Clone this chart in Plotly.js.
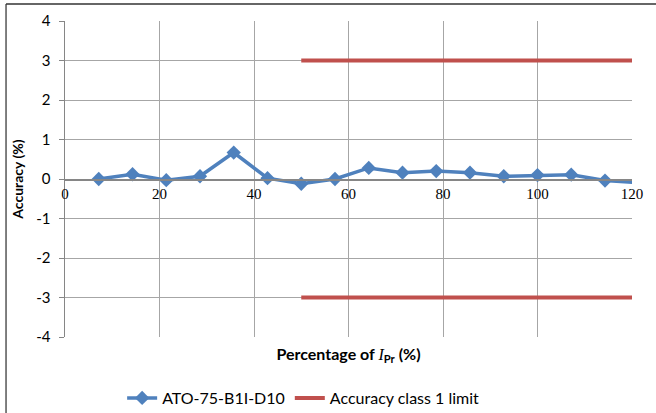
<!DOCTYPE html>
<html>
<head>
<meta charset="utf-8">
<script src="https://cdn.plot.ly/plotly-3.0.1.min.js"></script>
<style>html,body{margin:0;padding:0;background:#fff;}#chart{width:656px;height:413px;}</style>
</head>
<body>
<div id="chart"></div>
<script>
// Data
var seriesName = 'ATO-75-B1I-D10';
var pctIpr = [7.14, 14.29, 21.43, 28.57, 35.71, 42.86, 50.0, 57.14, 64.29, 71.43, 78.57, 85.71, 92.86, 100.0, 107.14, 114.29, 121.43];
var accuracy = [0.00, 0.12, -0.03, 0.07, 0.67, 0.02, -0.12, 0.00, 0.28, 0.16, 0.20, 0.16, 0.07, 0.10, 0.11, -0.04, -0.09];
var limitName = 'Accuracy class 1 limit';
var limitX = [50, 120];
var limitUpper = 3;
var limitLower = -3;
var yTicks = [-4, -3, -2, -1, 0, 1, 2, 3, 4];
var xTicks = [0, 20, 40, 60, 80, 100, 120];

var sans = 'Lato, "Liberation Sans", sans-serif';
var serif = '"Liberation Serif", "DejaVu Serif", serif';

var limX = limitX.concat([null]).concat(limitX);
var limY = limitX.map(function(){return limitUpper;}).concat([null]).concat(limitX.map(function(){return limitLower;}));

var traces = [
  {
    x: pctIpr, y: accuracy, name: seriesName, type: 'scatter', mode: 'lines+markers',
    line: {color: '#4F81BD', width: 3.5},
    marker: {symbol: 'diamond', size: 11, color: '#4F81BD'},
    cliponaxis: true
  },
  {
    x: limX, y: limY, name: limitName, type: 'scatter', mode: 'lines',
    line: {color: '#C0504D', width: 4}, connectgaps: false
  },
  {
    // carrier trace so the zero-crossing tick-label axis is drawn
    x: xTicks, y: xTicks.map(function(){return null;}), xaxis: 'x2', yaxis: 'y',
    type: 'scatter', mode: 'markers', showlegend: false, hoverinfo: 'skip',
    marker: {opacity: 0}
  }
];

var gridC = '#A6A6A6';
var axisC = '#868686';

var layout = {
  width: 656, height: 413,
  margin: {l: 65, r: 24, t: 21, b: 76, autoexpand: false},
  paper_bgcolor: '#ffffff', plot_bgcolor: '#ffffff',
  font: {family: sans, size: 14, color: '#000000'},
  showlegend: true,
  legend: {orientation: 'h', x: 0.42, xanchor: 'center', y: -0.193, yanchor: 'middle',
           font: {family: sans, size: 16, color: '#000'}, bgcolor: 'rgba(0,0,0,0)'},
  xaxis: {
    range: [0, 120], tickvals: xTicks, showticklabels: false, ticks: '', automargin: false,
    showgrid: true, gridcolor: gridC, gridwidth: 1, zeroline: false, showline: false,
    title: {text: '<b>Percentage of </b><span style="font-family:Liberation Serif;font-style:italic;font-weight:normal">I</span><b><sub>Pr</sub> (%)</b>',
            font: {family: sans, size: 16, color: '#000'}, standoff: 11}
  },
  xaxis2: {
    overlaying: 'x', anchor: 'free', position: 0.5, range: [0, 120], tickvals: xTicks,
    ticktext: xTicks.map(String), showgrid: false, zeroline: false, showline: true, automargin: false,
    linecolor: axisC, linewidth: 1.5, ticks: '', side: 'bottom',
    tickfont: {family: serif, size: 15, color: '#000'}
  },
  yaxis: {
    range: [-4, 4], tickvals: yTicks, ticktext: yTicks.map(String), automargin: false,
    showgrid: true, gridcolor: gridC, gridwidth: 1, zeroline: false,
    showline: true, linecolor: axisC, linewidth: 1.5, ticks: 'outside', ticklen: 5, tickcolor: axisC,
    ticklabelstandoff: 5,
    tickfont: {family: sans, size: 15, color: '#000'},
    title: {text: '<b>Accuracy (%)</b>', font: {family: sans, size: 14, color: '#000'}, standoff: 9}
  },
  shapes: [
    {type: 'line', xref: 'paper', yref: 'paper', x0: -0.104, x1: -0.104, y0: 1.054, y1: -0.25, line: {color: '#555555', width: 1.5}},
    {type: 'line', xref: 'paper', yref: 'paper', x0: -0.104, x1: 1.05, y0: 1.054, y1: 1.054, line: {color: '#333333', width: 1.5}}
  ]
};

Plotly.newPlot('chart', traces, layout, {displayModeBar: false, staticPlot: true});
</script>
</body>
</html>
